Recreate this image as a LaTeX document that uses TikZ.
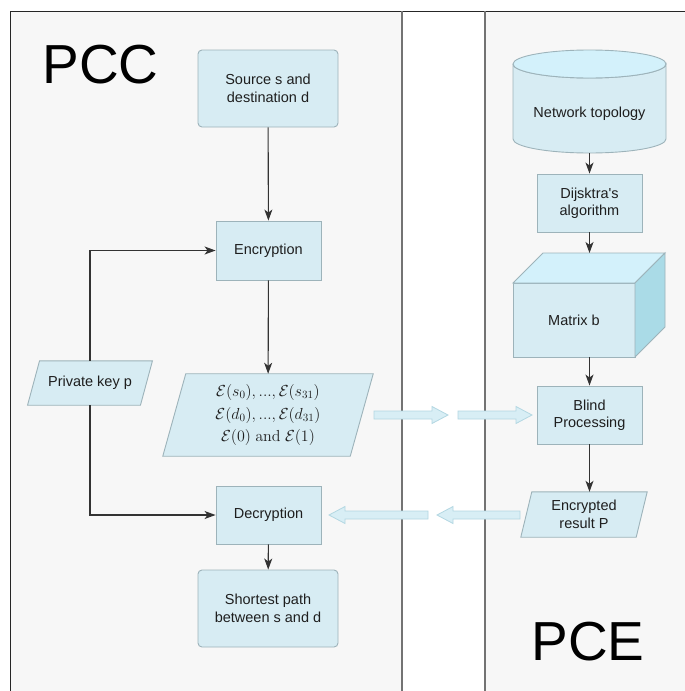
\documentclass[tikz,border=0pt]{standalone}
\usepackage[no-math]{fontspec}
\setmainfont{Liberation Sans}
\usetikzlibrary{arrows.meta,calc}
\pgfdeclarelayer{panels}
\pgfdeclarelayer{shapes}
\pgfsetlayers{panels,shapes,main}

\definecolor{panelgray}{HTML}{F7F7F7}
\definecolor{boxfill}{HTML}{D7ECF3}
\definecolor{boxline}{HTML}{9DB3BA}
\definecolor{toplight}{HTML}{D3F1FB}
\definecolor{sidedark}{HTML}{AADBE7}
\definecolor{flowfill}{HTML}{D8EEF5}
\definecolor{flowline}{HTML}{B3D7E2}
\definecolor{txt}{HTML}{1E1E1E}

% slanted data box drawn around a text node: #1 node name, #2 half of the slant
\newcommand{\slantbox}[2]{%
  \begin{pgfonlayer}{shapes}
    \draw[box] ([xshift=-#2]#1.south west) -- ([xshift=-#2]#1.south east)
      -- ([xshift=#2]#1.north east) -- ([xshift=#2]#1.north west) -- cycle;
  \end{pgfonlayer}}

% hollow block arrow: #1 tail x, #2 tip x, #3 y
\newcommand{\fatarrow}[3]{%
  \pgfmathsetmacro{\hx}{#2>#1 ? #2-16 : #2+16}%
  \draw[flowarrow] (#1,#3-4) -- (\hx,#3-4) -- (\hx,#3-8.5) -- (#2,#3)
    -- (\hx,#3+8.5) -- (\hx,#3+4) -- (#1,#3+4) -- cycle;}

\begin{document}
\begin{tikzpicture}[x=1pt,y=-1pt,
  font=\fontsize{14.5}{17.5}\selectfont,
  box/.style={draw=boxline, fill=boxfill, line width=0.9pt, text=txt,
    align=center, inner sep=0pt},
  roundbox/.style={box, rounded corners=4pt},
  txtnode/.style={align=center, inner sep=0pt, text=txt},
  link/.style={draw=black!80, line width=1.1pt,
    -{Stealth[length=11pt,width=8pt,inset=3pt]}},
  flowarrow/.style={fill=flowfill, draw=flowline, line width=0.8pt},
  bigtitle/.style={txtnode, text=black, font=\fontsize{55}{60}\selectfont}]

\useasboundingbox (0,0) rectangle (685,691);

% lanes
\begin{pgfonlayer}{panels}
  \fill[white] (0,0) rectangle (685,691);
  \fill[panelgray] (10,11) rectangle (402,691);
  \fill[panelgray] (485,11) rectangle (685,691);
  \draw[black!85, line width=1pt] (10,691) -- (10,11) -- (685,11);
  \draw[black!55, line width=1.2pt] (402,11) -- (402,691) (485,11) -- (485,691);
\end{pgfonlayer}

\node[bigtitle] (pcc) at (100.5,65) {PCC};
\node[bigtitle] (pce) at (588,642) {PCE};

% PCC side
\node[roundbox, minimum width=140, minimum height=77] (src) at (268,88.5)
  {Source s and\\destination d};
\node[box, minimum width=105, minimum height=59] (enc) at (268.5,250.5) {Encryption};
% encrypted bits, math enlarged as a whole
\node[txtnode, scale=1.11, transform shape, minimum width=168.5, minimum height=73.9,
  font=\fontsize{14.4}{20.5}\selectfont] (cts) at (268,415)
  {$\mathcal{E}(s_0),...,\mathcal{E}(s_{31})$\\
   $\mathcal{E}(d_0),...,\mathcal{E}(d_{31})$\\
   $\mathcal{E}(0)\ \mathrm{and}\ \mathcal{E}(1)$};
\slantbox{cts}{11.5}
\node[txtnode, minimum width=112.5, minimum height=44] (pk) at (90,383) {Private key p};
\slantbox{pk}{6}
\node[box, minimum width=105, minimum height=58] (dec) at (268.5,515) {Decryption};
\node[roundbox, minimum width=140, minimum height=77] (sp) at (268,608.5)
  {Shortest path\\between s and d};

% PCE side: database cylinder
\begin{pgfonlayer}{shapes}
  \draw[box] (513,64) -- (513,139)
    arc[start angle=180, end angle=0, x radius=76.5, y radius=14]
    -- (666,64)
    arc[start angle=0, end angle=180, x radius=76.5, y radius=14];
  \draw[box, fill=toplight] (589.5,64) ellipse [x radius=76.5, y radius=14];
\end{pgfonlayer}
\node[txtnode, minimum width=153, minimum height=79] (net) at (589.5,113.5)
  {Network topology};

\node[box, minimum width=105, minimum height=58] (dij) at (589.5,203)
  {Dijsktra\textquotesingle s\\algorithm};

% matrix cube
\begin{pgfonlayer}{shapes}
  \draw[box] (513,283) rectangle (635,357);
  \draw[box, fill=toplight] (513,283) -- (543,253) -- (665,253) -- (635,283) -- cycle;
  \draw[box, fill=sidedark] (635,283) -- (665,253) -- (665,327) -- (635,357) -- cycle;
\end{pgfonlayer}
\node[txtnode, minimum width=122, minimum height=74] (mat) at (574,320) {Matrix b};
\coordinate (mattop) at (589.5,253);

\node[box, minimum width=105, minimum height=58] (blind) at (589.5,415)
  {Blind\\Processing};
\node[txtnode, minimum width=115, minimum height=45] (res) at (584,514.5)
  {Encrypted\\result P};
\slantbox{res}{5.5}

% connectors
\draw[link] (src) -- (enc);
\draw[link] (enc) -- (cts);
\draw[link] (pk.north) |- (enc.west);
\draw[link] (pk.south) |- (dec.west);
\draw[link] (dec) -- (sp);
\draw[link] (net.south) -- (dij.north);
\draw[link] (dij.south) -- (mattop);
\draw[link] (blind.north |- mat.south) -- (blind.north);
\draw[link] (blind.south) -- (blind.south |- res.north);

% exchanges between the two sides
\fatarrow{374}{448}{415}
\fatarrow{458}{532}{415}
\fatarrow{520}{437}{515}
\fatarrow{428}{329}{515}

\end{tikzpicture}
\end{document}
